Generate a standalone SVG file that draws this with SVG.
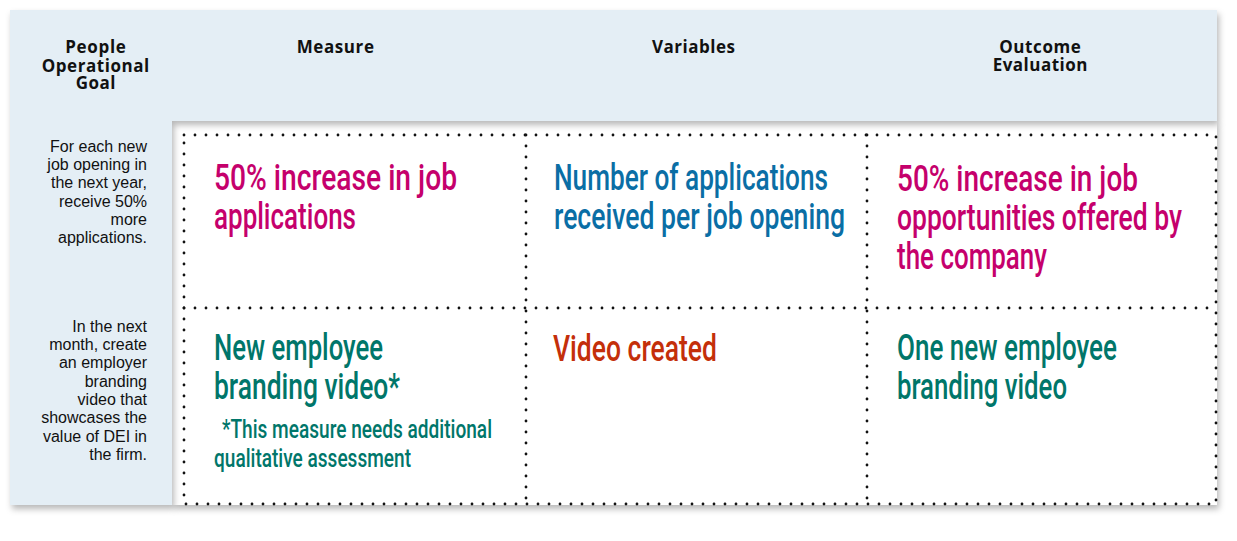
<svg xmlns="http://www.w3.org/2000/svg" width="1237" height="541" viewBox="0 0 1237 541">
<defs>
<filter id="sh" x="-5%" y="-5%" width="110%" height="115%">
<feDropShadow dx="2" dy="4" stdDeviation="3" flood-color="#000" flood-opacity="0.28"/>
</filter>
<style>
.hd{font-family:"Open Sans","Liberation Sans",sans-serif;font-weight:bold;font-size:17px;fill:#111;text-anchor:middle}
.gl{font-family:"Liberation Sans","Noto Sans",sans-serif;font-size:16px;fill:#111;text-anchor:end}
.cl{font-family:Roboto,"Liberation Sans",sans-serif;font-size:37px;font-weight:500}
.fn{font-family:Roboto,"Liberation Sans",sans-serif;font-size:25.5px;font-weight:500;fill:#00766a}
.mg{fill:#c5006c}.bl{fill:#0a6ea5}.gr{fill:#00766a}.rd{fill:#c42f0a}
.dot{fill:none;stroke:#111;stroke-width:2.8;stroke-linecap:round;stroke-dasharray:0 11}
</style>
</defs>
<rect x="172" y="121" width="1045" height="384" fill="#fff" filter="url(#sh)"/>
<path d="M10,10 H1217 V121 H172 V505 H10 Z" fill="#e4eef5" filter="url(#sh)"/>
<g id="headers">
<text class="hd" x="95.5" y="53.3" textLength="60.7" lengthAdjust="spacing">People</text>
<text class="hd" x="95.5" y="71.7" textLength="107.6" lengthAdjust="spacing">Operational</text>
<text class="hd" x="95.5" y="89.3" textLength="39.7" lengthAdjust="spacing">Goal</text>
<text class="hd" x="335.3" y="53.3" textLength="77.3" lengthAdjust="spacing">Measure</text>
<text class="hd" x="693.5" y="53.3" textLength="83" lengthAdjust="spacing">Variables</text>
<text class="hd" x="1040" y="53.3" textLength="81.7" lengthAdjust="spacing">Outcome</text>
<text class="hd" x="1040" y="71.3" textLength="94.7" lengthAdjust="spacing">Evaluation</text>
</g>
<g id="goal1">
<text class="gl" x="147" y="152">For each new</text>
<text class="gl" x="147" y="170.2">job opening in</text>
<text class="gl" x="147" y="188.4">the next year,</text>
<text class="gl" x="147" y="206.6">receive 50%</text>
<text class="gl" x="147" y="224.8">more</text>
<text class="gl" x="147" y="243">applications.</text>
</g>
<g id="goal2">
<text class="gl" x="147" y="331.7">In the next</text>
<text class="gl" x="147" y="350">month, create</text>
<text class="gl" x="147" y="368.3">an employer</text>
<text class="gl" x="147" y="386.6">branding</text>
<text class="gl" x="147" y="404.9">video that</text>
<text class="gl" x="147" y="423.2">showcases the</text>
<text class="gl" x="147" y="441.5">value of DEI in</text>
<text class="gl" x="147" y="459.8">the firm.</text>
</g>
<g id="connectors">
<rect class="dot" x="184" y="135" width="1032" height="369"/>
<line class="dot" x1="184" y1="308" x2="1216" y2="308"/>
<line class="dot" x1="526" y1="135" x2="526" y2="504"/>
<line class="dot" x1="867" y1="135" x2="867" y2="504"/>
</g>
<g id="cell-measure-1">
<text class="cl mg" x="214" y="190" textLength="243" lengthAdjust="spacingAndGlyphs">50% increase in job</text>
<text class="cl mg" x="214" y="229" textLength="142" lengthAdjust="spacingAndGlyphs">applications</text>
</g>
<g id="cell-variables-1">
<text class="cl bl" x="554" y="190" textLength="274" lengthAdjust="spacingAndGlyphs">Number of applications</text>
<text class="cl bl" x="554" y="229" textLength="291" lengthAdjust="spacingAndGlyphs">received per job opening</text>
</g>
<g id="cell-outcome-1">
<text class="cl mg" x="897" y="191" textLength="241" lengthAdjust="spacingAndGlyphs">50% increase in job</text>
<text class="cl mg" x="897" y="230" textLength="285" lengthAdjust="spacingAndGlyphs">opportunities offered by</text>
<text class="cl mg" x="897" y="269" textLength="150" lengthAdjust="spacingAndGlyphs">the company</text>
</g>
<g id="cell-measure-2">
<text class="cl gr" x="214" y="360" textLength="169" lengthAdjust="spacingAndGlyphs">New employee</text>
<text class="cl gr" x="214" y="399" textLength="186" lengthAdjust="spacingAndGlyphs">branding video*</text>
<text class="fn" x="222" y="438" textLength="270" lengthAdjust="spacingAndGlyphs">*This measure needs additional</text>
<text class="fn" x="214" y="467" textLength="197" lengthAdjust="spacingAndGlyphs">qualitative assessment</text>
</g>
<g id="cell-variables-2">
<text class="cl rd" x="553" y="361" textLength="164" lengthAdjust="spacingAndGlyphs">Video created</text>
</g>
<g id="cell-outcome-2">
<text class="cl gr" x="897" y="360" textLength="220" lengthAdjust="spacingAndGlyphs">One new employee</text>
<text class="cl gr" x="897" y="399" textLength="170" lengthAdjust="spacingAndGlyphs">branding video</text>
</g>
</svg>
